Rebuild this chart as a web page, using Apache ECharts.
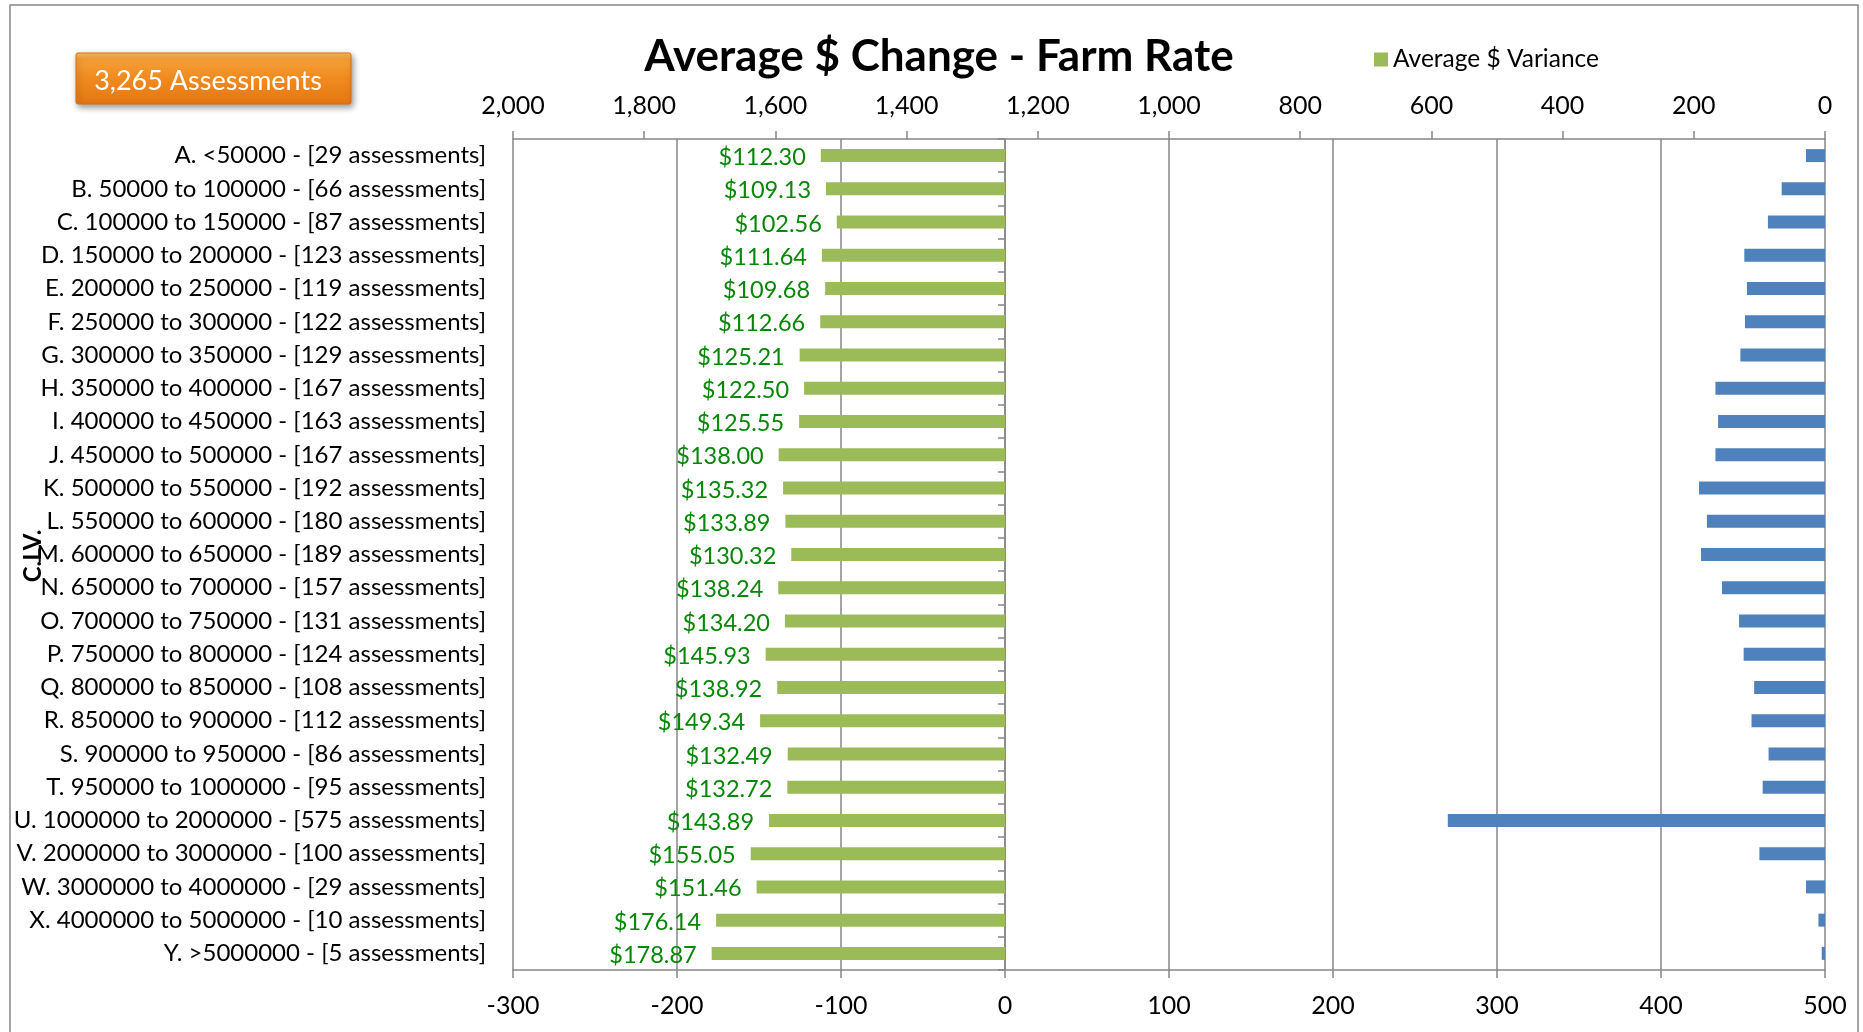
<!DOCTYPE html>
<html>
<head>
<meta charset="utf-8">
<script src="https://cdn.jsdelivr.net/npm/echarts@6/dist/echarts.min.js"></script>
<style>
html,body{margin:0;padding:0;background:#fff;}
#chart{width:1863px;height:1032px;}
</style>
</head>
<body>
<div id="chart"></div>
<script>
const categories = [
  "A. <50000 - [29 assessments]",
  "B. 50000 to 100000 - [66 assessments]",
  "C. 100000 to 150000 - [87 assessments]",
  "D. 150000 to 200000 - [123 assessments]",
  "E. 200000 to 250000 - [119 assessments]",
  "F. 250000 to 300000 - [122 assessments]",
  "G. 300000 to 350000 - [129 assessments]",
  "H. 350000 to 400000 - [167 assessments]",
  "I. 400000 to 450000 - [163 assessments]",
  "J. 450000 to 500000 - [167 assessments]",
  "K. 500000 to 550000 - [192 assessments]",
  "L. 550000 to 600000 - [180 assessments]",
  "M. 600000 to 650000 - [189 assessments]",
  "N. 650000 to 700000 - [157 assessments]",
  "O. 700000 to 750000 - [131 assessments]",
  "P. 750000 to 800000 - [124 assessments]",
  "Q. 800000 to 850000 - [108 assessments]",
  "R. 850000 to 900000 - [112 assessments]",
  "S. 900000 to 950000 - [86 assessments]",
  "T. 950000 to 1000000 - [95 assessments]",
  "U. 1000000 to 2000000 - [575 assessments]",
  "V. 2000000 to 3000000 - [100 assessments]",
  "W. 3000000 to 4000000 - [29 assessments]",
  "X. 4000000 to 5000000 - [10 assessments]",
  "Y. >5000000 - [5 assessments]"
];
const averageVariance = [
  -112.30, -109.13, -102.56, -111.64, -109.68, -112.66, -125.21, -122.50, -125.55,
  -138.00, -135.32, -133.89, -130.32, -138.24, -134.20, -145.93, -138.92, -149.34,
  -132.49, -132.72, -143.89, -155.05, -151.46, -176.14, -178.87
];
const assessmentCounts = [
  29, 66, 87, 123, 119, 122, 129, 167, 163, 167, 192, 180, 189, 157, 131, 124,
  108, 112, 86, 95, 575, 100, 29, 10, 5
];
const titleText = "Average $ Change - Farm Rate";
const legendName = "Average $ Variance";
const totalLabel = "3,265 Assessments";
const axisTitle = "C.LV.";

const FONT = "Lato";
const GREY = "#868686";

const chart = echarts.init(document.getElementById('chart'));
chart.setOption({
  backgroundColor: '#ffffff',
  animation: false,
  textStyle: { fontFamily: FONT },
  title: {
    text: titleText,
    left: 934,
    textAlign: 'center',
    top: 30,
    textStyle: { fontFamily: FONT, fontWeight: 'bold', fontSize: 44, color: '#000' }
  },
  legend: {
    data: [legendName],
    left: 1369,
    top: 42,
    icon: 'rect',
    itemWidth: 14,
    itemHeight: 14,
    itemGap: 6,
    textStyle: { fontFamily: FONT, fontSize: 24.5, color: '#000' }
  },
  graphic: [
    {
      type: 'rect',
      silent: true,
      shape: { x: 10, y: 5, width: 1848, height: 1060 },
      style: { fill: 'none', stroke: GREY, lineWidth: 1.5 },
      z: -10
    },
    {
      type: 'rect',
      shape: { x: 76, y: 53, width: 275, height: 51, r: 2 },
      style: {
        fill: new echarts.graphic.LinearGradient(0, 0, 0, 1, [
          { offset: 0, color: '#FBC064' },
          { offset: 0.12, color: '#F6A13A' },
          { offset: 0.5, color: '#F08A1E' },
          { offset: 1, color: '#E57714' }
        ]),
        stroke: '#D96E10',
        lineWidth: 1,
        shadowBlur: 6,
        shadowOffsetX: 2,
        shadowOffsetY: 3,
        shadowColor: 'rgba(0,0,0,0.4)'
      },
      z: 10
    },
    {
      type: 'text',
      style: {
        text: totalLabel,
        x: 208, y: 81,
        align: 'center', verticalAlign: 'middle',
        fill: '#ffffff',
        font: '27px Lato'
      },
      z: 11
    },
    {
      type: 'text',
      rotation: Math.PI / 2,
      x: 33, y: 556,
      style: {
        text: axisTitle,
        x: 0, y: 0,
        align: 'center', verticalAlign: 'middle',
        fill: '#000',
        font: 'bold 24px Lato'
      },
      z: 11
    }
  ],
  grid: { left: 513, right: 38, top: 139, bottom: 62, containLabel: false },
  xAxis: [
    {
      type: 'value',
      position: 'bottom',
      min: -300, max: 500, interval: 100,
      axisLine: { show: true, onZero: false, lineStyle: { color: GREY, width: 1.5 } },
      axisTick: { show: true, length: 8, lineStyle: { color: GREY, width: 1.5 } },
      axisLabel: { fontFamily: FONT, fontSize: 25, color: '#000', margin: 23 },
      splitLine: { show: true, lineStyle: { color: GREY, width: 1.5 } }
    },
    {
      type: 'value',
      position: 'top',
      min: 0, max: 2000, interval: 200,
      inverse: true,
      axisLine: { show: true, onZero: false, lineStyle: { color: GREY, width: 1.5 } },
      axisTick: { show: true, length: 8, lineStyle: { color: GREY, width: 1.5 } },
      axisLabel: {
        fontFamily: FONT, fontSize: 25, color: '#000', margin: 21,
        formatter: v => v.toLocaleString('en-US')
      },
      splitLine: { show: false }
    }
  ],
  yAxis: [
    {
      type: 'category',
      data: categories,
      inverse: true,
      position: 'left',
      axisLine: { show: false, onZero: false },
      axisTick: { show: false },
      axisLabel: { fontFamily: FONT, fontSize: 24, color: '#000', margin: 27, padding: [2, 0, 0, 0] }
    },
    {
      type: 'category',
      data: categories,
      inverse: true,
      position: 'left',
      axisLine: { show: true, onZero: true, onZeroAxisIndex: 0, lineStyle: { color: GREY, width: 1.5 } },
      axisTick: { show: true, length: 7, lineStyle: { color: GREY, width: 1.5 } },
      axisLabel: { show: false }
    }
  ],
  series: [
    {
      name: legendName,
      type: 'bar',
      xAxisIndex: 0,
      yAxisIndex: 0,
      data: averageVariance,
      barWidth: 13,
      barGap: '-100%',
      itemStyle: { color: '#9BBB59' },
      label: {
        show: true,
        position: 'left',
        distance: 15,
        offset: [0, 2],
        color: '#078707',
        fontFamily: FONT,
        fontSize: 23.5,
        formatter: p => '$' + Math.abs(p.value).toFixed(2)
      },
      z: 3
    },
    {
      name: 'Assessments',
      type: 'bar',
      xAxisIndex: 1,
      yAxisIndex: 0,
      data: assessmentCounts,
      barWidth: 13,
      barGap: '-100%',
      itemStyle: { color: '#4F81BD' },
      z: 3
    }
  ]
});
</script>
</body>
</html>
